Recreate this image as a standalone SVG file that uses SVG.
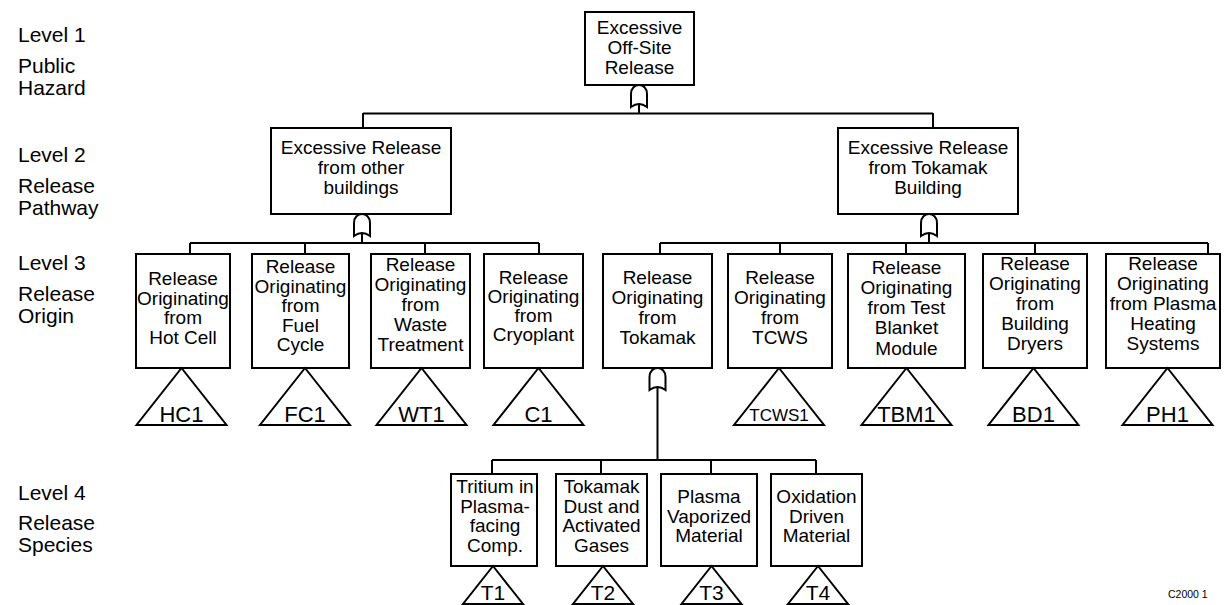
<svg xmlns="http://www.w3.org/2000/svg" xmlns:xlink="http://www.w3.org/1999/xlink" width="1226" height="605" viewBox="0 0 1226 605">
<style>
  .box{fill:#fff;stroke:#000;stroke-width:2}
  .tri{fill:#fff;stroke:#000;stroke-width:2;stroke-linejoin:miter}
  .ln{fill:none;stroke:#000;stroke-width:2}
  .gate{fill:#fff;stroke:#000;stroke-width:2}
  text{font-family:"Liberation Sans",Arial,sans-serif;fill:#000}
  .lvl{font-size:21px}
  .t{font-size:19px;text-anchor:middle}
  .tl{font-size:22px;text-anchor:middle}
  .tl4{font-size:21px;text-anchor:middle}
  .ts{font-size:17px;text-anchor:middle}
  .id{font-size:10.5px}
</style>
<defs>
  <path id="orgate" class="gate" d="M-8,22 V9 C-8,3 -4,0 0,0 C4,0 8,3 8,9 V22 Q0,16 -8,22 Z"/>
</defs>
<rect width="1226" height="605" fill="#fff"/>

<g id="level-labels">
  <text class="lvl" x="18" y="42">Level 1</text>
  <text class="lvl" x="18" y="73">Public</text>
  <text class="lvl" x="18" y="95">Hazard</text>
  <text class="lvl" x="18" y="162">Level 2</text>
  <text class="lvl" x="18" y="193">Release</text>
  <text class="lvl" x="18" y="215">Pathway</text>
  <text class="lvl" x="18" y="270">Level 3</text>
  <text class="lvl" x="18" y="301">Release</text>
  <text class="lvl" x="18" y="323">Origin</text>
  <text class="lvl" x="18" y="500">Level 4</text>
  <text class="lvl" x="18" y="530">Release</text>
  <text class="lvl" x="18" y="552">Species</text>
</g>

<g id="connectors">
  <path class="ln" d="M639,103 V113.5 M363,113.5 H933 M363,113 V128 M933,113 V128"/>
  <path class="ln" d="M362,232 V243 M190,243 H539 M190,243 V254 M305,243 V254 M425,243 V254 M539,243 V254"/>
  <path class="ln" d="M929,232 V243 M660,243 H1208 M660,243 V254 M780,243 V254 M906,243 V254 M1035,243 V254 M1208,243 V254"/>
  <path class="ln" d="M657.5,388 V460 M492,460 H816 M492,460 V474 M601,460 V474 M711,460 V474 M816,460 V474"/>
  <use xlink:href="#orgate" x="639" y="85"/>
  <use xlink:href="#orgate" x="362" y="214"/>
  <use xlink:href="#orgate" x="929" y="214"/>
  <use xlink:href="#orgate" x="657.5" y="368"/>
</g>

<g id="top">
  <rect class="box" x="585" y="12" width="109" height="73"/>
  <text class="t"><tspan x="639.5" y="33.5">Excessive</tspan><tspan x="639.5" y="53.5">Off-Site</tspan><tspan x="639.5" y="73.5">Release</tspan></text>
</g>

<g id="other-buildings">
  <rect class="box" x="271" y="128" width="180" height="86"/>
  <text class="t"><tspan x="361" y="154">Excessive Release</tspan><tspan x="361" y="174">from other</tspan><tspan x="361" y="194">buildings</tspan></text>
</g>

<g id="tokamak-building">
  <rect class="box" x="838" y="128" width="180" height="86"/>
  <text class="t"><tspan x="928" y="154">Excessive Release</tspan><tspan x="928" y="174">from Tokamak</tspan><tspan x="928" y="194">Building</tspan></text>
</g>

<g id="hot-cell">
  <rect class="box" x="136" y="254" width="94" height="114"/>
  <text class="t"><tspan x="183" y="285">Release</tspan><tspan x="183" y="304.5">Originating</tspan><tspan x="183" y="324">from</tspan><tspan x="183" y="343.5">Hot Cell</tspan></text>
  <polygon class="tri" points="181.5,368 136.5,425 226.5,425"/>
  <text class="tl" x="181.5" y="421.5">HC1</text>
</g>

<g id="fuel-cycle">
  <rect class="box" x="252" y="254" width="97" height="114"/>
  <text class="t"><tspan x="300.5" y="273">Release</tspan><tspan x="300.5" y="292.5">Originating</tspan><tspan x="300.5" y="312">from</tspan><tspan x="300.5" y="331.5">Fuel</tspan><tspan x="300.5" y="351">Cycle</tspan></text>
  <polygon class="tri" points="305,368 260,425 350,425"/>
  <text class="tl" x="305" y="421.5">FC1</text>
</g>

<g id="waste-treatment">
  <rect class="box" x="371" y="254" width="99" height="114"/>
  <text class="t"><tspan x="420.5" y="270.5">Release</tspan><tspan x="420.5" y="290.5">Originating</tspan><tspan x="420.5" y="310.5">from</tspan><tspan x="420.5" y="330.5">Waste</tspan><tspan x="420.5" y="350.5">Treatment</tspan></text>
  <polygon class="tri" points="421.5,368 376.5,425 466.5,425"/>
  <text class="tl" x="421.5" y="421.5">WT1</text>
</g>

<g id="cryoplant">
  <rect class="box" x="484" y="254" width="99" height="114"/>
  <text class="t"><tspan x="533.5" y="283.5">Release</tspan><tspan x="533.5" y="302.5">Originating</tspan><tspan x="533.5" y="321.5">from</tspan><tspan x="533.5" y="340.5">Cryoplant</tspan></text>
  <polygon class="tri" points="538.5,368 493.5,425 583.5,425"/>
  <text class="tl" x="538.5" y="421.5">C1</text>
</g>

<g id="tokamak">
  <rect class="box" x="603" y="254" width="109" height="114"/>
  <text class="t"><tspan x="657.5" y="284">Release</tspan><tspan x="657.5" y="304">Originating</tspan><tspan x="657.5" y="324">from</tspan><tspan x="657.5" y="344">Tokamak</tspan></text>
</g>

<g id="tcws">
  <rect class="box" x="728" y="254" width="104" height="114"/>
  <text class="t"><tspan x="780" y="284">Release</tspan><tspan x="780" y="304">Originating</tspan><tspan x="780" y="324">from</tspan><tspan x="780" y="344">TCWS</tspan></text>
  <polygon class="tri" points="779,368 734,425 824,425"/>
  <text class="ts" x="779" y="420.5">TCWS1</text>
</g>

<g id="tbm">
  <rect class="box" x="848" y="254" width="117" height="114"/>
  <text class="t"><tspan x="906.5" y="274">Release</tspan><tspan x="906.5" y="294">Originating</tspan><tspan x="906.5" y="314">from Test</tspan><tspan x="906.5" y="334">Blanket</tspan><tspan x="906.5" y="355">Module</tspan></text>
  <polygon class="tri" points="906.5,368 861.5,425 951.5,425"/>
  <text class="tl" x="906.5" y="421.5">TBM1</text>
</g>

<g id="building-dryers">
  <rect class="box" x="983" y="254" width="104" height="114"/>
  <text class="t"><tspan x="1035" y="270">Release</tspan><tspan x="1035" y="290">Originating</tspan><tspan x="1035" y="310">from</tspan><tspan x="1035" y="330">Building</tspan><tspan x="1035" y="350">Dryers</tspan></text>
  <polygon class="tri" points="1033.5,368 988.5,425 1078.5,425"/>
  <text class="tl" x="1033.5" y="421.5">BD1</text>
</g>

<g id="plasma-heating">
  <rect class="box" x="1106" y="254" width="114" height="114"/>
  <text class="t"><tspan x="1163" y="270">Release</tspan><tspan x="1163" y="290">Originating</tspan><tspan x="1163" y="310">from Plasma</tspan><tspan x="1163" y="330">Heating</tspan><tspan x="1163" y="350">Systems</tspan></text>
  <polygon class="tri" points="1167.5,368 1122.5,425 1212.5,425"/>
  <text class="tl" x="1167.5" y="421.5">PH1</text>
</g>

<g id="tritium">
  <rect class="box" x="451" y="474" width="86" height="92"/>
  <text class="t"><tspan x="495" y="493">Tritium in</tspan><tspan x="495" y="512.5">Plasma-</tspan><tspan x="495" y="532">facing</tspan><tspan x="495" y="551.5">Comp.</tspan></text>
  <polygon class="tri" points="493,566 463,604 523,604"/>
  <text class="tl4" x="493" y="600">T1</text>
</g>

<g id="dust">
  <rect class="box" x="556" y="474" width="91" height="92"/>
  <text class="t"><tspan x="601.5" y="493">Tokamak</tspan><tspan x="601.5" y="512.5">Dust and</tspan><tspan x="601.5" y="532">Activated</tspan><tspan x="601.5" y="551.5">Gases</tspan></text>
  <polygon class="tri" points="603,566 573,604 633,604"/>
  <text class="tl4" x="603" y="600">T2</text>
</g>

<g id="plasma-vaporized">
  <rect class="box" x="661" y="474" width="96" height="92"/>
  <text class="t"><tspan x="709" y="503">Plasma</tspan><tspan x="709" y="522.5">Vaporized</tspan><tspan x="709" y="542">Material</tspan></text>
  <polygon class="tri" points="711.5,566 681.5,604 741.5,604"/>
  <text class="tl4" x="711.5" y="600">T3</text>
</g>

<g id="oxidation">
  <rect class="box" x="771" y="474" width="91" height="92"/>
  <text class="t"><tspan x="816.5" y="503">Oxidation</tspan><tspan x="816.5" y="522.5">Driven</tspan><tspan x="816.5" y="542">Material</tspan></text>
  <polygon class="tri" points="818,566 788,604 848,604"/>
  <text class="tl4" x="818" y="600">T4</text>
</g>

<text class="id" x="1168" y="598">C2000 1</text>
</svg>
